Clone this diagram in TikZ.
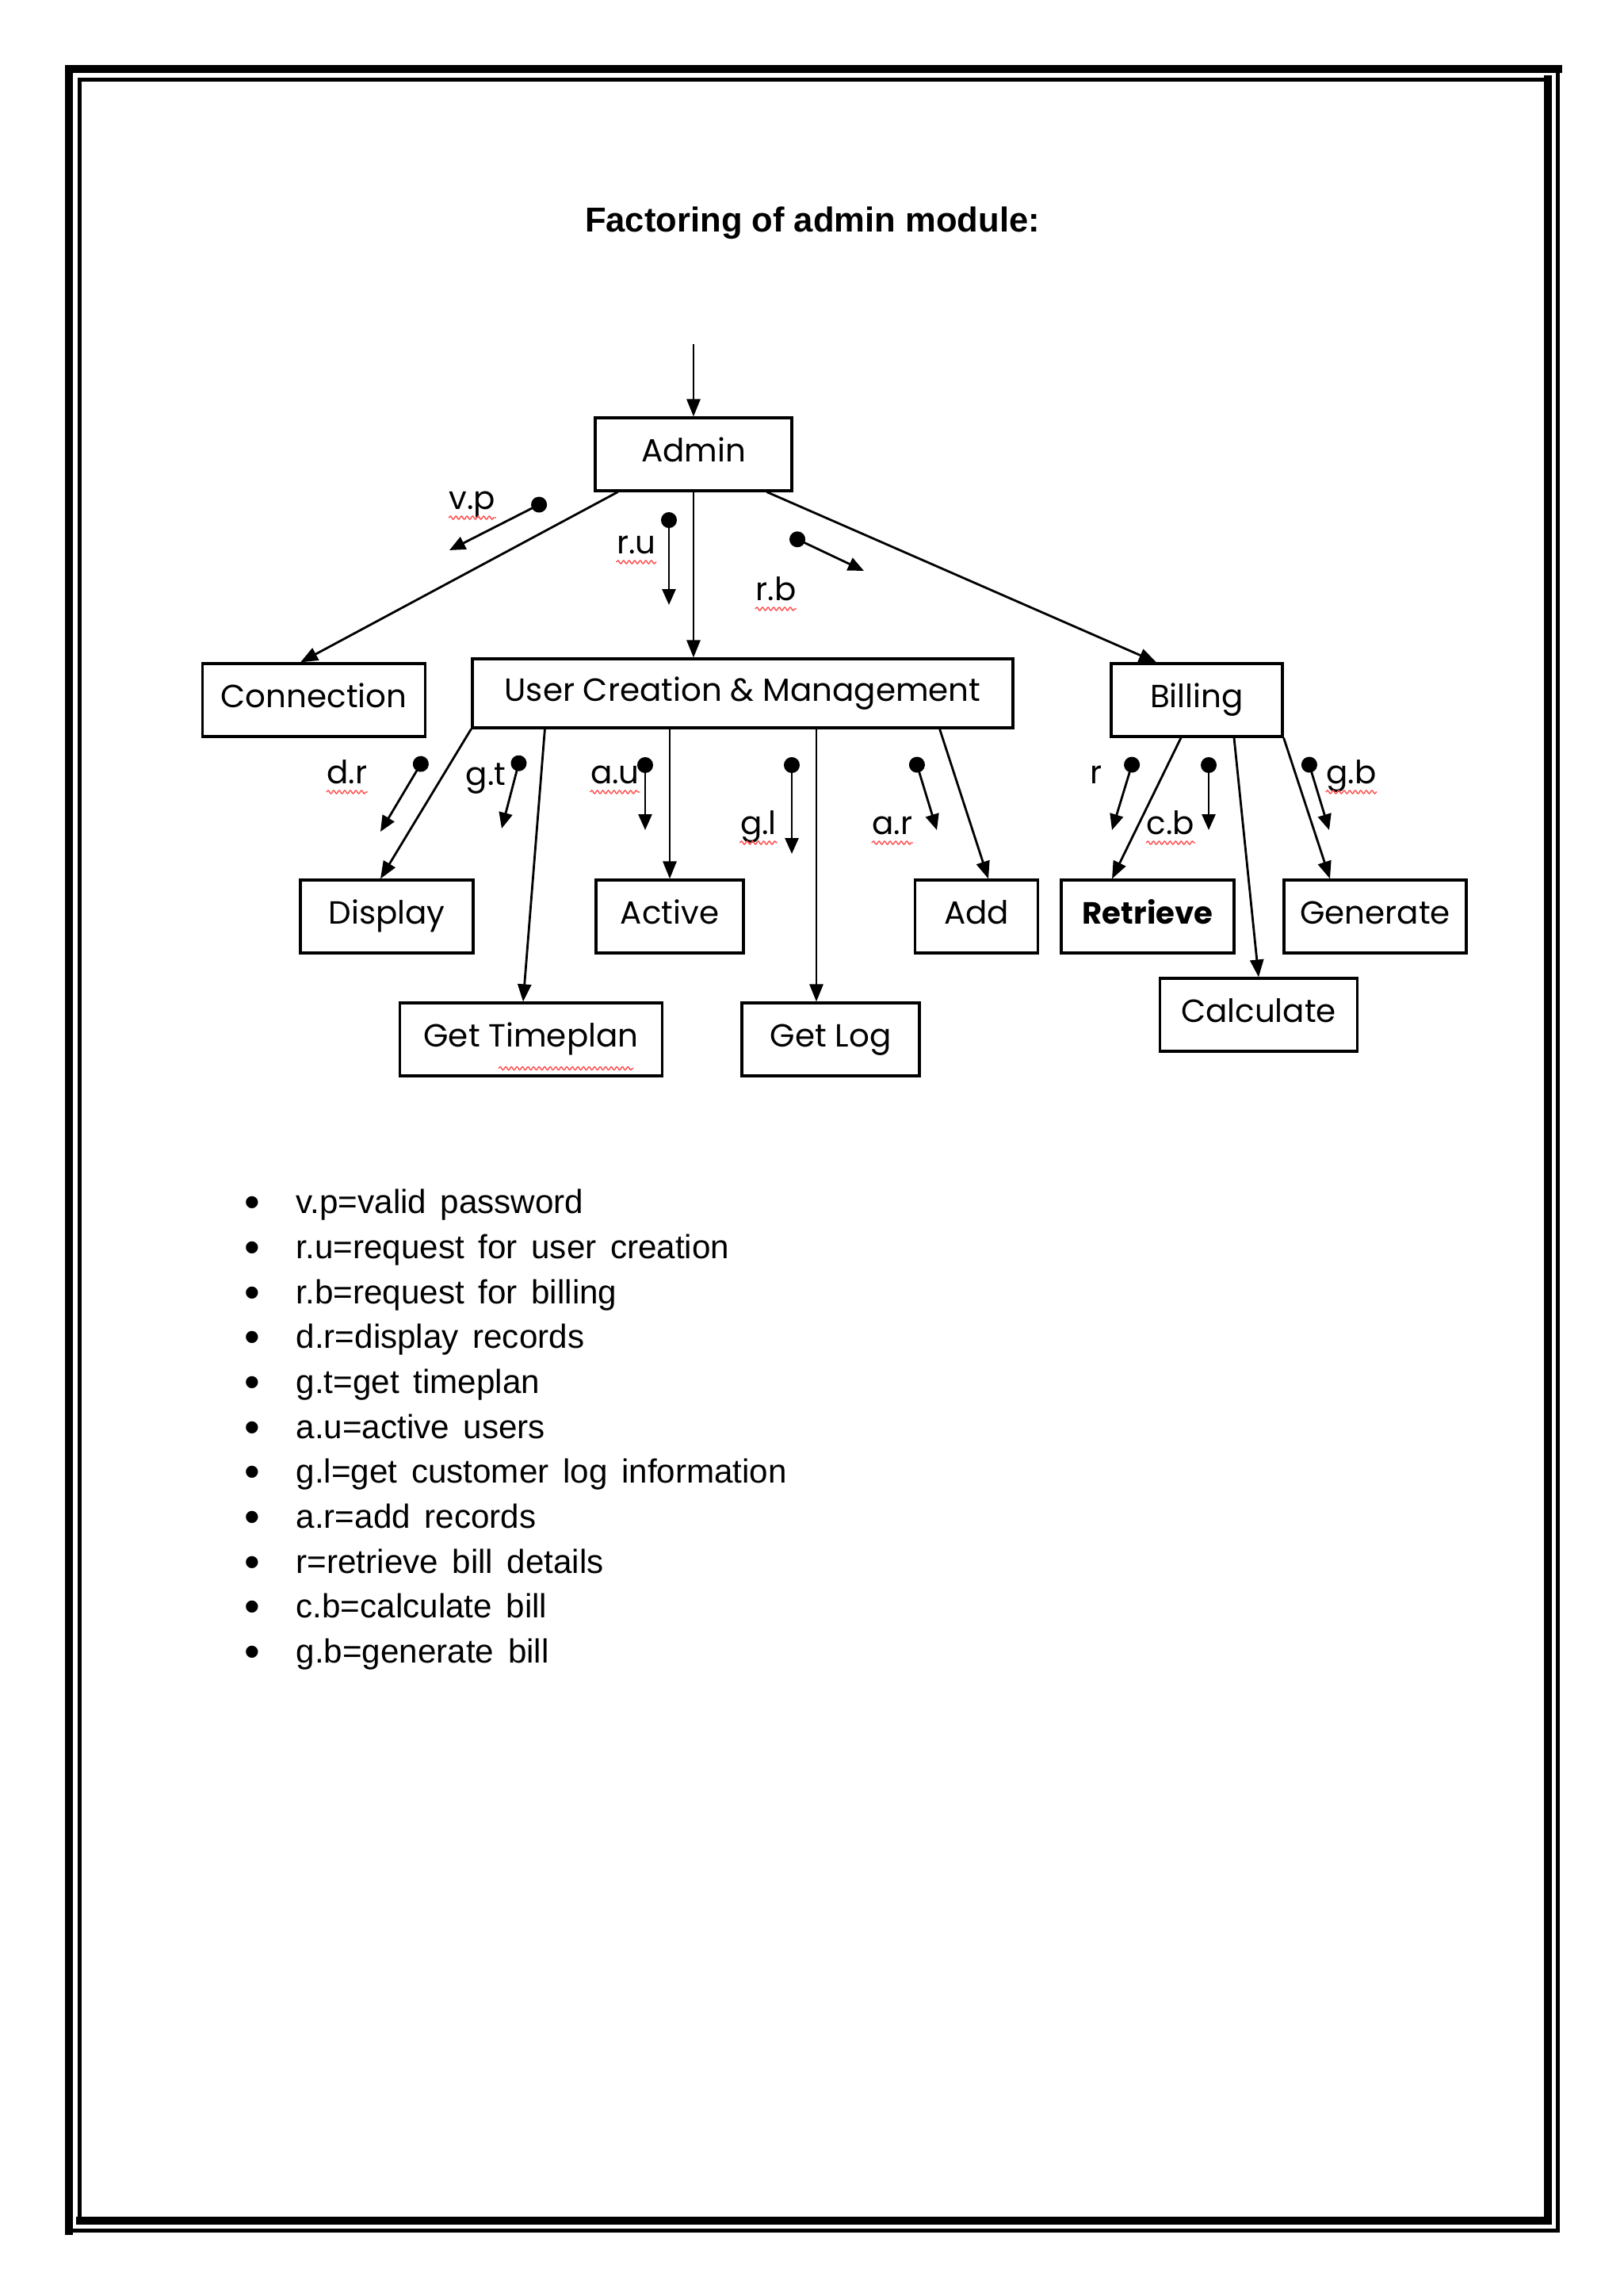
\documentclass[tikz,border=0pt]{standalone}
\usepackage{fontspec}
\setmainfont{Liberation Sans}
\newfontfamily\modfont{Poppins}
\usetikzlibrary{arrows.meta,decorations.pathmorphing}
\newcommand\espacolargo{\spaceskip 0.42em\relax}

\begin{document}
\begin{tikzpicture}[
    every node/.style={font=\fontsize{12}{14}\selectfont},
    modulo/.style={draw, line width=0.9pt, minimum height=0.92cm, inner sep=0pt, text height=0.75em, text depth=0.2em, font=\modfont\fontsize{11.5}{13}\selectfont},
    chamada/.style={line width=0.8pt, -{Triangle[length=0.22cm,width=0.17cm]}},
    fluxo/.style={line width=0.8pt, {Circle[length=0.2cm]}-{Triangle[length=0.2cm,width=0.17cm]}},
    rotulo/.style={inner sep=0pt, text height=0.75em, text depth=0.2em, font=\modfont\fontsize{11.5}{13}\selectfont},
    erro/.style={red!70, line width=0.4pt, decorate, decoration={snake, amplitude=0.02cm, segment length=0.07cm}},
    item/.style={anchor=base west, inner sep=0pt, font=\fontsize{12}{14}\selectfont\espacolargo},
    marca/.style={anchor=base west, inner sep=0pt, font=\fontsize{16}{16}\selectfont}
]
    % Página e moldura
    \useasboundingbox (0,0) rectangle (20.48,-28.96);
    \draw[line width=0.1cm, line cap=rect] (0.87,-28.135) -- (0.87,-0.87) -- (19.655,-0.87);
    \draw[line width=0.05cm, line cap=rect] (19.655,-0.87) -- (19.655,-28.135) -- (0.87,-28.135);
    \draw[line width=0.05cm, line cap=rect] (1.005,-28.005) -- (1.005,-1.005) -- (19.525,-1.005);
    \draw[line width=0.1cm, line cap=rect] (19.525,-1.005) -- (19.525,-28.005) -- (1.005,-28.005);

    % Título
    \node[font=\bfseries\fontsize{12.4}{14}\selectfont, anchor=base] (title) at (10.25,-2.93) {Factoring of admin module:};

    % Módulos
    \node[modulo, minimum width=2.48cm] (A) at (8.75,-5.73) {Admin};
    \node[modulo, minimum width=2.81cm] (Con) at (3.96,-8.83) {Connection};
    \node[modulo, minimum width=6.82cm, minimum height=0.87cm] (U) at (9.37,-8.745) {User Creation \& Management};
    \node[modulo, minimum width=2.16cm] (B) at (15.10,-8.83) {Billing};
    \node[modulo, minimum width=2.18cm] (D) at (4.88,-11.56) {Display};
    \node[modulo, minimum width=1.86cm] (At) at (8.45,-11.56) {Active};
    \node[modulo, minimum width=1.55cm] (Ad) at (12.32,-11.56) {Add};
    \node[modulo, minimum width=2.18cm, font=\modfont\bfseries\fontsize{11}{13}\selectfont] (R) at (14.48,-11.56) {Retrieve};
    \node[modulo, minimum width=2.30cm] (Gen) at (17.35,-11.56) {Generate};
    \node[modulo, minimum width=3.31cm] (T) at (6.70,-13.11) {Get Timeplan};
    \node[modulo, minimum width=2.24cm] (L) at (10.48,-13.11) {Get Log};
    \node[modulo, minimum width=2.49cm] (Cal) at (15.88,-12.80) {Calculate};

    % Chamadas
    \coordinate (E) at (8.75,-4.34);
    \draw[chamada] (E) -- (A);
    \draw[chamada] ([xshift=0.30cm]A.south west) -- ([xshift=-0.17cm]Con.north);
    \draw[chamada] (A.south) -- (A.south |- U.north);
    \draw[chamada] ([xshift=-0.33cm]A.south east) -- ([xshift=-0.51cm]B.north);
    \draw[chamada] (U.south west) -- ([xshift=-0.08cm]D.north);
    \draw[chamada] ([xshift=0.93cm]U.south west) -- ([xshift=-0.10cm]T.north);
    \draw[chamada] (At.north |- U.south) -- (At.north);
    \draw[chamada] ([xshift=-0.18cm]L.north |- U.south) -- ([xshift=-0.18cm]L.north);
    \draw[chamada] ([xshift=-0.94cm]U.south east) -- ([xshift=0.15cm]Ad.north);
    \draw[chamada] ([xshift=-0.2cm]B.south) -- ([xshift=-0.45cm]R.north);
    \draw[chamada] ([xshift=0.47cm]B.south) -- (Cal.north);
    \draw[chamada] (B.south east) -- ([xshift=-0.57cm]Gen.north);

    % Fluxos de dados
    \coordinate (vp1) at (6.89,-6.32);   \coordinate (vp2) at (5.67,-6.94);
    \coordinate (ru1) at (8.44,-6.46);   \coordinate (ru2) at (8.44,-7.63);
    \coordinate (rb1) at (9.97,-6.76);   \coordinate (rb2) at (10.90,-7.20);
    \coordinate (dr1) at (5.36,-9.55);   \coordinate (dr2) at (4.80,-10.49);
    \coordinate (gt1) at (6.57,-9.53);   \coordinate (gt2) at (6.33,-10.45);
    \coordinate (au1) at (8.14,-9.55);   \coordinate (au2) at (8.14,-10.47);
    \coordinate (gl1) at (9.99,-9.55);   \coordinate (gl2) at (9.99,-10.77);
    \coordinate (ar1) at (11.54,-9.55);  \coordinate (ar2) at (11.82,-10.47);
    \coordinate (r1) at (14.31,-9.55);   \coordinate (r2) at (14.03,-10.47);
    \coordinate (cb1) at (15.25,-9.55);  \coordinate (cb2) at (15.25,-10.47);
    \coordinate (gb1) at (16.49,-9.55);  \coordinate (gb2) at (16.77,-10.47);
    \draw[fluxo] (vp1) -- (vp2);
    \draw[fluxo] (ru1) -- (ru2);
    \draw[fluxo] (rb1) -- (rb2);
    \draw[fluxo] (dr1) -- (dr2);
    \draw[fluxo] (gt1) -- (gt2);
    \draw[fluxo] (au1) -- (au2);
    \draw[fluxo] (gl1) -- (gl2);
    \draw[fluxo] (ar1) -- (ar2);
    \draw[fluxo] (r1) -- (r2);
    \draw[fluxo] (cb1) -- (cb2);
    \draw[fluxo] (gb1) -- (gb2);

    % Rótulos dos fluxos
    \node[rotulo] (vpL) at (5.96,-6.33) {v.p};
    \node[rotulo] (ruL) at (8.03,-6.89) {r.u};
    \node[rotulo] (rbL) at (9.79,-7.48) {r.b};
    \node[rotulo] (drL) at (4.38,-9.79) {d.r};
    \node[rotulo] (gtL) at (6.13,-9.81) {g.t};
    \node[rotulo] (auL) at (7.76,-9.79) {a.u};
    \node[rotulo] (glL) at (9.57,-10.43) {g.l};
    \node[rotulo] (arL) at (11.26,-10.43) {a.r};
    \node[rotulo] (rL) at (13.83,-9.79) {r};
    \node[rotulo] (cbL) at (14.77,-10.43) {c.b};
    \node[rotulo] (gbL) at (17.05,-9.79) {g.b};

    % Sublinhado do corretor
    \draw[erro] ([yshift=-0.2cm]vpL.west) -- ([yshift=-0.2cm]vpL.east);
    \draw[erro] ([yshift=-0.2cm]ruL.west) -- ([yshift=-0.2cm]ruL.east);
    \draw[erro] ([yshift=-0.2cm]rbL.west) -- ([yshift=-0.2cm]rbL.east);
    \draw[erro] ([yshift=-0.2cm]drL.west) -- ([yshift=-0.2cm]drL.east);
    \draw[erro] ([yshift=-0.2cm]auL.west) -- ([yshift=-0.2cm]auL.east);
    \draw[erro] ([yshift=-0.2cm]glL.west) -- ([yshift=-0.2cm]glL.east);
    \draw[erro] ([yshift=-0.2cm]arL.west) -- ([yshift=-0.2cm]arL.east);
    \draw[erro] ([yshift=-0.2cm]cbL.west) -- ([yshift=-0.2cm]cbL.east);
    \draw[erro] ([yshift=-0.2cm]gbL.west) -- ([yshift=-0.2cm]gbL.east);
    \draw[erro] ([xshift=-0.41cm,yshift=0.11cm]T.south) -- ([xshift=1.29cm,yshift=0.11cm]T.south);

    % Legenda
    \node[marca] (b0) at (3.08,-15.35) {•};
    \node[item] (t0) at (3.73,-15.30) {v.p=valid password};
    \node[marca] (b1) at (3.08,-15.92) {•};
    \node[item] (t1) at (3.73,-15.87) {r.u=request for user creation};
    \node[marca] (b2) at (3.08,-16.49) {•};
    \node[item] (t2) at (3.73,-16.44) {r.b=request for billing};
    \node[marca] (b3) at (3.08,-17.05) {•};
    \node[item] (t3) at (3.73,-17.00) {d.r=display records};
    \node[marca] (b4) at (3.08,-17.62) {•};
    \node[item] (t4) at (3.73,-17.57) {g.t=get timeplan};
    \node[marca] (b5) at (3.08,-18.19) {•};
    \node[item] (t5) at (3.73,-18.14) {a.u=active users};
    \node[marca] (b6) at (3.08,-18.75) {•};
    \node[item] (t6) at (3.73,-18.70) {g.l=get customer log information};
    \node[marca] (b7) at (3.08,-19.32) {•};
    \node[item] (t7) at (3.73,-19.27) {a.r=add records};
    \node[marca] (b8) at (3.08,-19.89) {•};
    \node[item] (t8) at (3.73,-19.84) {r=retrieve bill details};
    \node[marca] (b9) at (3.08,-20.45) {•};
    \node[item] (t9) at (3.73,-20.40) {c.b=calculate bill};
    \node[marca] (b10) at (3.08,-21.02) {•};
    \node[item] (t10) at (3.73,-20.97) {g.b=generate bill};
\end{tikzpicture}
\end{document}
